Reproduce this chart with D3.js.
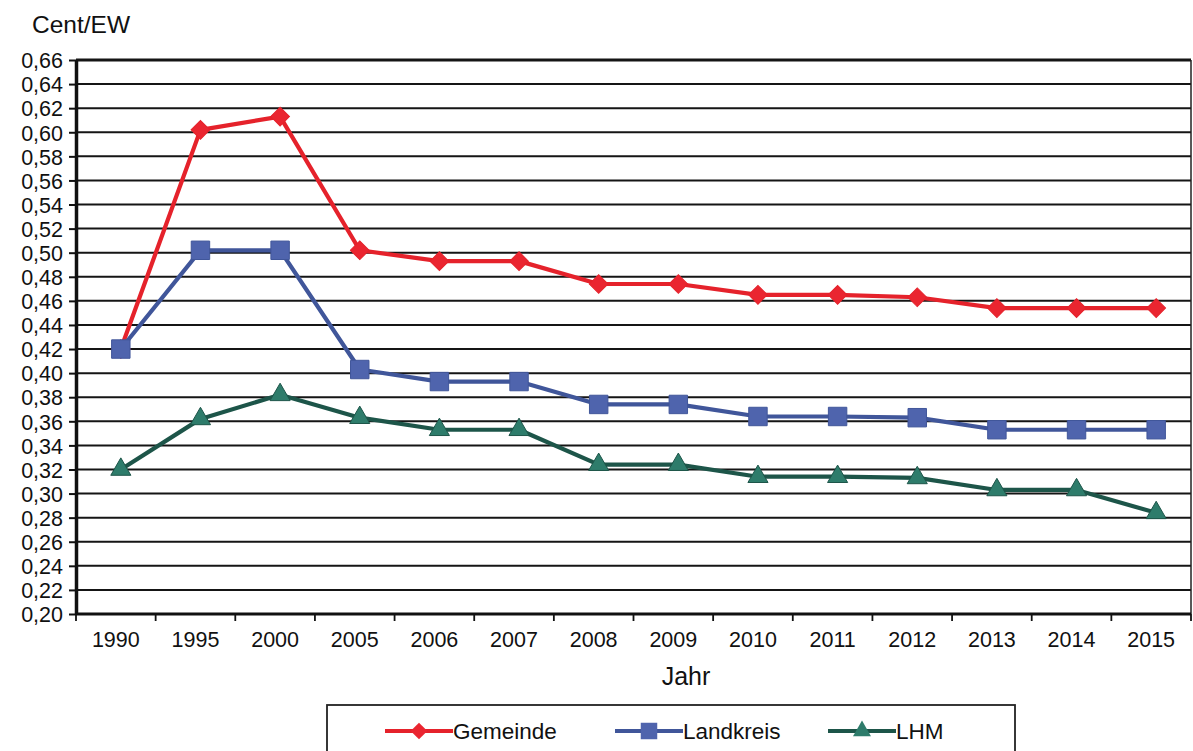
<!DOCTYPE html>
<html>
<head>
<meta charset="utf-8">
<script src="https://cdn.jsdelivr.net/npm/d3@7"></script>
<style>
  body { margin: 0; background: #fff; }
  svg text { font-family: "Liberation Sans", Arial, sans-serif; fill: #111; }
</style>
</head>
<body>
<svg id="chart" width="1193" height="751"></svg>
<script>
const years = ["1990","1995","2000","2005","2006","2007","2008","2009","2010","2011","2012","2013","2014","2015"];
const gemeinde = [0.42, 0.602, 0.613, 0.502, 0.493, 0.493, 0.474, 0.474, 0.465, 0.465, 0.463, 0.454, 0.454, 0.454];
const landkreis = [0.42, 0.502, 0.502, 0.403, 0.393, 0.393, 0.374, 0.374, 0.364, 0.364, 0.363, 0.353, 0.353, 0.353];
const lhm = [0.32, 0.362, 0.382, 0.363, 0.353, 0.353, 0.324, 0.324, 0.314, 0.314, 0.313, 0.303, 0.303, 0.284];
const yTicks = d3.range(0.20, 0.6601, 0.02);

const svg = d3.select("#chart");
const plotL = 76, plotR = 1191, plotT = 60, plotB = 614;

const x = d3.scaleBand().domain(years).range([plotL, plotR]);
const y = d3.scaleLinear().domain([0.20, 0.66]).range([plotB, plotT]);

// grid lines
svg.append("g").selectAll("line").data(yTicks).enter().append("line")
  .attr("x1", plotL).attr("x2", plotR)
  .attr("y1", d => y(d)).attr("y2", d => y(d))
  .attr("stroke", "#151515").attr("stroke-width", d => d > 0.65 ? 3 : 2);

// right border
svg.append("line").attr("x1", plotR).attr("x2", plotR).attr("y1", plotT).attr("y2", plotB)
  .attr("stroke", "#222").attr("stroke-width", 1.5);

// y axis
const yAxis = svg.append("g").attr("transform", `translate(${plotL},0)`)
  .call(d3.axisLeft(y).tickValues(yTicks).tickSize(7).tickSizeOuter(0)
    .tickFormat(d => d3.format(".2f")(d).replace(".", ",")));
yAxis.select(".domain").attr("stroke", "#111").attr("stroke-width", 3.5);
yAxis.selectAll(".tick line").attr("stroke", "#111").attr("stroke-width", 2);
yAxis.selectAll("text").style("font-size", "21.5px").attr("x", -13).attr("dy", "0.36em");

// x axis (ticks at category boundaries)
const xAxis = svg.append("g").attr("transform", `translate(0,${plotB})`);
xAxis.append("line").attr("x1", plotL).attr("x2", plotR).attr("stroke", "#111").attr("stroke-width", 3);
xAxis.selectAll(".tk").data(years.concat(["end"])).enter().append("line")
  .attr("x1", (d, i) => plotL + i * x.step()).attr("x2", (d, i) => plotL + i * x.step())
  .attr("y1", 0).attr("y2", 7).attr("stroke", "#111").attr("stroke-width", 1.8);
xAxis.selectAll("text").data(years).enter().append("text")
  .attr("x", d => x(d) + x.bandwidth() / 2).attr("y", 33)
  .attr("text-anchor", "middle").style("font-size", "21.5px").text(d => d);

// axis titles
svg.append("text").attr("x", 32).attr("y", 33).style("font-size", "24.5px").text("Cent/EW");
svg.append("text").attr("x", 686).attr("y", 685).attr("text-anchor", "middle")
  .style("font-size", "25px").text("Jahr");

const cx = d => x(d) + x.bandwidth() / 2 + 5;
const line = vals => d3.line().x((v, i) => cx(years[i])).y(v => y(v))(vals);

const series = [
  { name: "Gemeinde", vals: gemeinde, line: "#e5222b", fill: "#ea2530", sym: d3.symbolSquare, rot: 45, size: 175 },
  { name: "Landkreis", vals: landkreis, line: "#40569a", fill: "#4f64ad", sym: d3.symbolSquare, rot: 0, size: 340 },
  { name: "LHM", vals: lhm, line: "#1d5549", fill: "#2e7c6b", sym: d3.symbolTriangle, rot: 0, size: 175 }
];

series.forEach(s => {
  const g = svg.append("g");
  g.append("path").attr("d", line(s.vals)).attr("fill", "none")
    .attr("stroke", s.line).attr("stroke-width", 4.2).attr("stroke-linejoin", "round");
  g.selectAll("path.m").data(s.vals).enter().append("path").attr("class", "m")
    .attr("transform", (v, i) => `translate(${cx(years[i])},${y(v)}) rotate(${s.rot})`)
    .attr("d", d3.symbol().type(s.sym).size(s.size)())
    .attr("fill", s.fill).attr("stroke", s.line).attr("stroke-width", 1);
});

// legend
const lg = svg.append("g");
lg.append("rect").attr("x", 327).attr("y", 705).attr("width", 688).attr("height", 60)
  .attr("fill", "#fff").attr("stroke", "#222").attr("stroke-width", 1.8);
const legX = [385, 615, 828];
series.forEach((s, i) => {
  const lx = legX[i], ly = 731;
  lg.append("line").attr("x1", lx).attr("x2", lx + 68).attr("y1", ly).attr("y2", ly)
    .attr("stroke", s.line).attr("stroke-width", 4);
  lg.append("path").attr("transform", `translate(${lx + 34},${ly}) rotate(${s.rot})`)
    .attr("d", d3.symbol().type(s.sym).size(s.size * 0.8)()).attr("fill", s.fill);
  lg.append("text").attr("x", lx + 68).attr("y", ly + 8).style("font-size", "22.5px").text(s.name);
});
</script>
</body>
</html>
